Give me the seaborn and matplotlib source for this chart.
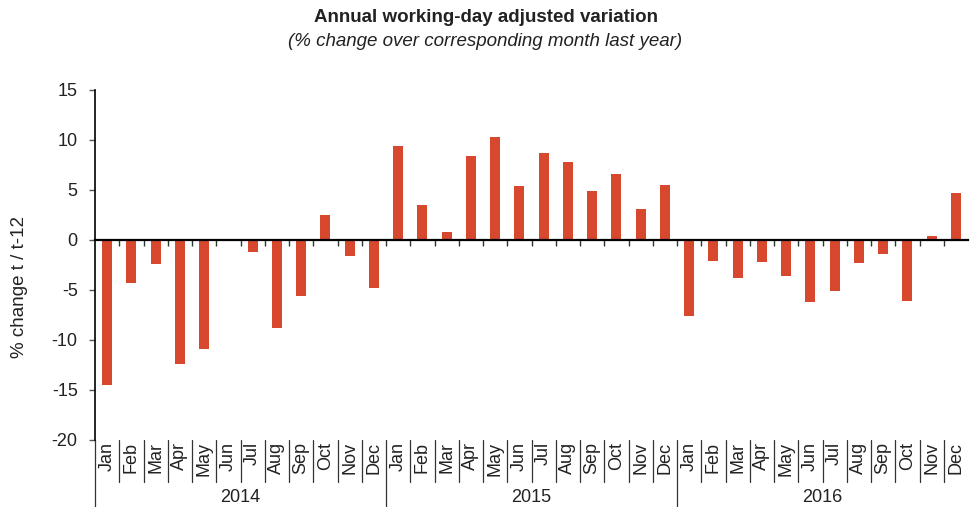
import numpy as np
import pandas as pd
import matplotlib
matplotlib.use('Agg')
import matplotlib.pyplot as plt
import matplotlib.transforms as mtrans
import seaborn as sns

MONTHS = ['Jan', 'Feb', 'Mar', 'Apr', 'May', 'Jun',
          'Jul', 'Aug', 'Sep', 'Oct', 'Nov', 'Dec']
YEARS = ['2014', '2015', '2016']

VALS_2014 = [-14.5, -4.3, -2.4, -12.4, -10.9, 0.0,
             -1.2, -8.8, -5.6, 2.5, -1.6, -4.8]
VALS_2015 = [9.4, 3.5, 0.85, 8.4, 10.3, 5.4,
             8.7, 7.8, 4.9, 6.6, 3.1, 5.5]
VALS_2016 = [-7.6, -2.1, -3.8, -2.2, -3.6, -6.2,
             -5.1, -2.3, -1.4, -6.1, 0.4, 4.7]

Y_TICKS = [15, 10, 5, 0, -5, -10, -15, -20]

BAR_COLOR = '#d8482f'
TXT = '#222222'

df = pd.DataFrame({
    'year': np.repeat(YEARS, len(MONTHS)),
    'month': MONTHS * len(YEARS),
    'value': VALS_2014 + VALS_2015 + VALS_2016,
})
df['pos'] = np.arange(len(df))

sns.set_style('white')
plt.rcParams['font.family'] = ['Liberation Sans', 'DejaVu Sans']

fig = plt.figure(figsize=(9.71, 5.07), dpi=100)
W, H = 971, 507
ax = fig.add_axes([95 / W, 1 - 440 / H, (968 - 95) / W, (440 - 90) / H])

sns.barplot(data=df, x='pos', y='value', color=BAR_COLOR, width=0.42,
            linewidth=0, saturation=1, ax=ax)

n = len(df)
ax.set_xlim(-0.5, n - 0.5)
ax.set_ylim(-20, 15)
ax.set_yticks(Y_TICKS)
ax.set_yticklabels([str(t) for t in Y_TICKS], fontsize=13, color=TXT)
ax.tick_params(axis='y', direction='out', length=4.5, width=1, color='#555555',
               left=True, pad=8)

# x axis sits on the zero line, ticks between months, no labels there
for s in ['top', 'right']:
    ax.spines[s].set_visible(False)
ax.spines['bottom'].set_position(('data', 0))
ax.spines['bottom'].set_linewidth(1.6)
ax.spines['bottom'].set_color('black')
ax.spines['left'].set_linewidth(1.2)
ax.spines['left'].set_color('black')
ax.set_xticks(np.arange(0.5, n - 0.5, 1.0))
ax.set_xticklabels([])
ax.tick_params(axis='x', direction='out', length=4, width=1, color='#333333',
               bottom=True)
ax.set_xlabel('')
ax.set_ylabel('')
fig.text(20 / W, 1 - 287 / H, '% change t / t-12', rotation=90,
         ha='center', va='center', fontsize=13.5, color=TXT)

# month and year labels below the plot
trans = mtrans.blended_transform_factory(ax.transData, fig.transFigure)
for i, m in enumerate(df['month']):
    ax.text(i, 1 - 442 / H, m, rotation=90, ha='center', va='top',
            fontsize=13, color=TXT, transform=trans)
for i in range(n):
    edge = i - 0.5
    low = 0.0 if i % len(MONTHS) == 0 else 1 - 482 / H
    ax.plot([edge, edge], [1 - 440 / H, low], color='#333333', lw=0.9,
            transform=trans, clip_on=False)
for k, yr in enumerate(YEARS):
    mid = k * len(MONTHS) + (len(MONTHS) - 1) / 2
    ax.text(mid, 1 - 497 / H, yr, ha='center', va='center',
            fontsize=13, color=TXT, transform=trans)

fig.text(0.5, 1 - 18 / H, 'Annual working-day adjusted variation',
         ha='center', va='center', fontsize=13.5, fontweight='bold',
         color=TXT)
fig.text(0.5, 1 - 42 / H, '(% change over corresponding month last year)',
         ha='center', va='center', fontsize=13.5, fontstyle='italic',
         color=TXT)

fig.savefig('out.png', dpi=100)
